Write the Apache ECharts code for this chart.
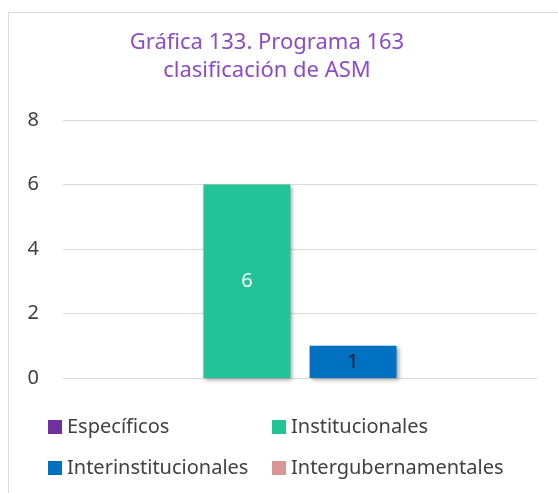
<!DOCTYPE html>
<html><head><meta charset="utf-8">
<script src="https://cdn.jsdelivr.net/npm/echarts@6/dist/echarts.min.js"></script>
<style>html,body{margin:0;padding:0;background:#fff}#c{width:558px;height:493px}</style>
</head><body><div id="c"></div>
<script>
const categories = [''];
const seriesNames = ['Específicos', 'Institucionales', 'Interinstitucionales', 'Intergubernamentales'];
const seriesValues = [[0], [6], [1], [0]];
const seriesColors = ['#7030a0', '#22c397', '#0070c0', '#d99694'];
const labelColors = ['#404040', '#ffffff', '#1a1a1a', '#404040'];
const yTicks = { min: 0, max: 8, interval: 2 };

const chart = echarts.init(document.getElementById('c'));
const font = 'Noto Sans';
const legendPos = [[48, 417], [272, 417], [48, 458], [272, 458]];
chart.setOption({
  animation: false,
  graphic: [{ type: 'rect', shape: { x: 8.5, y: 12.5, width: 600, height: 600 }, style: { fill: 'none', stroke: '#d9d9d9', lineWidth: 1 } }],
  title: {
    text: 'Gráfica 133. Programa 163\nclasificación de ASM',
    left: 267, textAlign: 'center', top: 29, padding: 0,
    textStyle: { color: '#8e4cc4', fontFamily: font, fontSize: 22, fontWeight: 'normal', lineHeight: 28 }
  },
  legend: seriesNames.map((n, i) => ({
    data: [n], left: legendPos[i][0], top: legendPos[i][1], padding: 0,
    itemWidth: 14, itemHeight: 14, icon: 'rect',
    textStyle: { color: '#404040', fontFamily: font, fontSize: 20 }
  })),
  grid: { left: 63, right: 21, top: 120, bottom: 115 },
  xAxis: {
    type: 'category', data: categories,
    axisLine: { lineStyle: { color: '#d9d9d9' } }, axisTick: { show: false }, axisLabel: { show: false }
  },
  yAxis: {
    type: 'value', min: yTicks.min, max: yTicks.max, interval: yTicks.interval,
    axisLine: { show: false }, axisTick: { show: false },
    splitLine: { lineStyle: { color: '#d9d9d9', width: 1 } },
    axisLabel: { color: '#404040', fontFamily: font, fontSize: 20, margin: 24 }
  },
  series: seriesNames.map((n, i) => ({
    name: n, type: 'bar', data: seriesValues[i], barWidth: 87, barGap: '22%',
    itemStyle: { color: seriesColors[i], shadowBlur: 4, shadowColor: 'rgba(0,0,0,0.35)', shadowOffsetX: 2, shadowOffsetY: 2 },
    label: {
      show: true, position: 'inside', color: labelColors[i], fontFamily: font, fontSize: 20,
      formatter: p => p.value === 0 ? '' : String(p.value)
    }
  }))
});
</script></body></html>
